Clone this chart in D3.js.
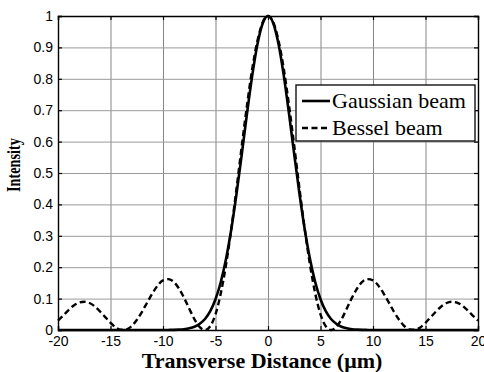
<!DOCTYPE html>
<html>
<head>
<meta charset="utf-8">
<script src="https://cdn.jsdelivr.net/npm/d3@7"></script>
<style>
  body { margin: 0; background: #fff; }
  svg { display: block; }
  .tick text { font-family: "Liberation Sans", Arial, sans-serif; font-size: 14px; fill: #000; }
</style>
</head>
<body>
<div id="chart"></div>
<script>
// transverse positions (um), read every 0.5 um
const xPos = [
  -20, -19.5, -19, -18.5, -18, -17.5, -17, -16.5, -16, -15.5,
  -15, -14.5, -14, -13.5, -13, -12.5, -12, -11.5, -11, -10.5,
  -10, -9.5, -9, -8.5, -8, -7.5, -7, -6.5, -6, -5.5,
  -5, -4.5, -4, -3.5, -3, -2.5, -2, -1.5, -1, -0.5,
  0,
  0.5, 1, 1.5, 2, 2.5, 3, 3.5, 4, 4.5, 5,
  5.5, 6, 6.5, 7, 7.5, 8, 8.5, 9, 9.5, 10,
  10.5, 11, 11.5, 12, 12.5, 13, 13.5, 14, 14.5, 15,
  15.5, 16, 16.5, 17, 17.5, 18, 18.5, 19, 19.5, 20
];

const gaussian = [
  0, 0, 0, 0, 0, 0, 0, 0, 0, 0,
  0, 0, 0, 0, 0, 0, 0, 0, 0, 0,
  0, 0.0002, 0.0005, 0.0012, 0.0026, 0.0054, 0.0105, 0.020, 0.035, 0.060,
  0.098, 0.152, 0.226, 0.320, 0.433, 0.559, 0.689, 0.811, 0.911, 0.977,
  1,
  0.977, 0.911, 0.811, 0.689, 0.559, 0.433, 0.320, 0.226, 0.152, 0.098,
  0.060, 0.035, 0.020, 0.0105, 0.0054, 0.0026, 0.0012, 0.0005, 0.0002, 0,
  0, 0, 0, 0, 0, 0, 0, 0, 0, 0,
  0, 0, 0, 0, 0, 0, 0, 0, 0, 0
];

const bessel = [
  0.030, 0.046, 0.063, 0.078, 0.087, 0.090, 0.086, 0.075, 0.059, 0.041,
  0.023, 0.008, 0.001, 0.002, 0.012, 0.032, 0.058, 0.088, 0.117, 0.142,
  0.158, 0.162, 0.154, 0.133, 0.103, 0.068, 0.034, 0.009, 0.000, 0.012,
  0.050, 0.116, 0.207, 0.321, 0.450, 0.586, 0.716, 0.832, 0.922, 0.980,
  1,
  0.980, 0.922, 0.832, 0.716, 0.586, 0.450, 0.321, 0.207, 0.116, 0.050,
  0.012, 0.000, 0.009, 0.034, 0.068, 0.103, 0.133, 0.154, 0.162, 0.158,
  0.142, 0.117, 0.088, 0.058, 0.032, 0.012, 0.002, 0.001, 0.008, 0.023,
  0.041, 0.059, 0.075, 0.086, 0.090, 0.087, 0.078, 0.063, 0.046, 0.030
];

const xTicks = [-20, -15, -10, -5, 0, 5, 10, 15, 20];
const yTicks = [0, 0.1, 0.2, 0.3, 0.4, 0.5, 0.6, 0.7, 0.8, 0.9, 1];

const seriesNames = ["Gaussian beam", "Bessel beam"];

const W = 484, H = 372;
const margin = {left: 58, top: 16, right: 6, bottom: 42};
const pw = W - margin.left - margin.right;
const ph = H - margin.top - margin.bottom;
const serif = "'Liberation Serif', 'Times New Roman', serif";

const svg = d3.select("#chart").append("svg")
  .attr("width", W)
  .attr("height", H);

const g = svg.append("g")
  .attr("transform", "translate(" + margin.left + "," + margin.top + ")");

const sx = d3.scaleLinear().domain([-20, 20]).range([0, pw]);
const sy = d3.scaleLinear().domain([0, 1]).range([ph, 0]);

// grid
g.append("g")
  .attr("transform", "translate(0," + ph + ")")
  .call(d3.axisBottom(sx).tickValues(xTicks.slice(1, -1)).tickSize(-ph).tickFormat(""))
  .call(a => a.select(".domain").remove())
  .selectAll("line").attr("stroke", "#858585").attr("stroke-width", 1);
g.append("g")
  .call(d3.axisLeft(sy).tickValues(yTicks.slice(1, -1)).tickSize(-pw).tickFormat(""))
  .call(a => a.select(".domain").remove())
  .selectAll("line").attr("stroke", "#9a9a9a").attr("stroke-width", 1);

// curves
const line = d3.line()
  .x((d, i) => sx(xPos[i]))
  .y(d => sy(d))
  .curve(d3.curveMonotoneX);

g.append("path")
  .datum(gaussian)
  .attr("d", line)
  .attr("fill", "none")
  .attr("stroke", "#000")
  .attr("stroke-width", 2.6);

g.append("path")
  .datum(bessel)
  .attr("d", line)
  .attr("fill", "none")
  .attr("stroke", "#000")
  .attr("stroke-width", 2.4)
  .attr("stroke-dasharray", "6,3.5");

// axes with inward ticks, box on all sides
const hyphen = d => String(d).replace("\u2212", "-");
g.append("g")
  .attr("class", "ax")
  .attr("transform", "translate(0," + ph + ")")
  .call(d3.axisBottom(sx).tickValues(xTicks).tickSize(-4).tickPadding(6).tickFormat(hyphen));
g.append("g")
  .attr("class", "ax")
  .call(d3.axisLeft(sy).tickValues(yTicks).tickSize(-4).tickPadding(5).tickFormat(d => d === 0 || d === 1 ? d : d3.format(".1f")(d)));
g.append("g")
  .attr("class", "ax")
  .call(d3.axisTop(sx).tickValues(xTicks).tickSize(-4).tickFormat(""));
g.append("g")
  .attr("class", "ax")
  .attr("transform", "translate(" + pw + ",0)")
  .call(d3.axisRight(sy).tickValues(yTicks).tickSize(-4).tickFormat(""));

g.selectAll(".ax .domain").attr("stroke", "#000").attr("stroke-width", 1.4);
g.selectAll(".ax .tick line").attr("stroke", "#000").attr("stroke-width", 1.2);

// axis titles
svg.append("text")
  .attr("x", 262)
  .attr("y", 368)
  .attr("text-anchor", "middle")
  .style("font-family", serif)
  .style("font-weight", "bold")
  .style("font-size", "22px")
  .text("Transverse Distance (\u03bcm)");

svg.append("text")
  .attr("transform", "translate(20,165) rotate(-90)")
  .attr("text-anchor", "middle")
  .attr("textLength", 54)
  .attr("lengthAdjust", "spacingAndGlyphs")
  .style("font-family", serif)
  .style("font-weight", "bold")
  .style("font-size", "18px")
  .text("Intensity");

// legend
const legend = svg.append("g");
legend.append("rect")
  .attr("x", 296).attr("y", 85)
  .attr("width", 179).attr("height", 56)
  .attr("fill", "#fff")
  .attr("stroke", "#000")
  .attr("stroke-width", 1.3);

const legendRows = [
  {name: seriesNames[0], dash: null, lw: 2.6, ly: 101, ty: 107.5},
  {name: seriesNames[1], dash: "6,3.5", lw: 2.4, ly: 128, ty: 134.5}
];
legendRows.forEach(r => {
  legend.append("line")
    .attr("x1", 302).attr("x2", 330)
    .attr("y1", r.ly).attr("y2", r.ly)
    .attr("stroke", "#000")
    .attr("stroke-width", r.lw)
    .attr("stroke-dasharray", r.dash);
  legend.append("text")
    .attr("x", 332).attr("y", r.ty)
    .style("font-family", serif)
    .style("font-size", "22px")
    .text(r.name);
});
</script>
</body>
</html>
